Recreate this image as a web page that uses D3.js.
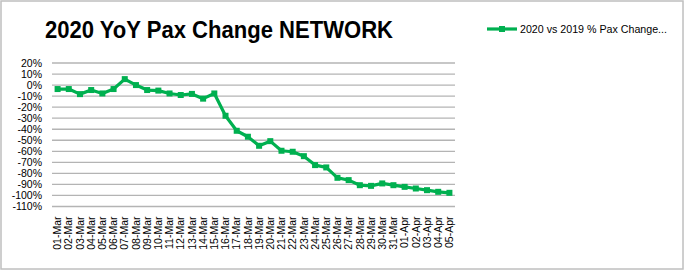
<!DOCTYPE html>
<html>
<head>
<meta charset="utf-8">
<script src="https://cdn.jsdelivr.net/npm/d3@7"></script>
<style>
  body { margin: 0; background: #fff; }
  svg { display: block; }
</style>
</head>
<body>
<script>
"use strict";
(function(){
    // dates on the x axis
    const days = ["01-Mar","02-Mar","03-Mar","04-Mar","05-Mar","06-Mar","07-Mar","08-Mar","09-Mar","10-Mar",
        "11-Mar","12-Mar","13-Mar","14-Mar","15-Mar","16-Mar","17-Mar","18-Mar","19-Mar","20-Mar",
        "21-Mar","22-Mar","23-Mar","24-Mar","25-Mar","26-Mar","27-Mar","28-Mar","29-Mar","30-Mar",
        "31-Mar","01-Apr","02-Apr","03-Apr","04-Apr","05-Apr"]
    // 2020 vs 2019 % pax change
    const paxChange = [-3.6, -3.6, -8.2, -4.5, -7.6, -3.6, 5.4, 0, -4.5, -5,
        -7.6, -9, -8, -12.3, -7.6, -27.8, -41.4, -46.8, -55, -50.8,
        -59.5, -60.4, -64.4, -72.5, -74.6, -84, -86.1, -90.7, -91.3, -89.1,
        -90.7, -92.2, -93.7, -95.2, -96.7, -97.6]
    const yTicks = [20, 10, 0, -10, -20, -30, -40, -50, -60, -70, -80, -90, -100, -110]
    const seriesName = "2020 vs 2019 % Pax Change..."
    const title = "2020 YoY Pax Change NETWORK"

    const measurements = {
        width: 686,
        height: 272,
        left: 52,
        right: 455,
        top: 63,
        bottom: 206.5
    }
    const green = "#00b050"

    const svgContainer = d3.select("body").append("svg")
        .attr("width", measurements.width)
        .attr("height", measurements.height)

    // chart frame
    svgContainer.append("rect")
        .attr("x", 1).attr("y", 1)
        .attr("width", 682).attr("height", 268)
        .attr("fill", "#fff")
        .attr("stroke", "#bfbfbf")
        .attr("stroke-width", 1.5)

    const scaleX = d3.scaleBand()
        .domain(days)
        .range([measurements.left, measurements.right])
    const scaleY = d3.scaleLinear()
        .domain([20, -110])
        .range([measurements.top, measurements.bottom])

    // gridlines
    svgContainer.append("g")
        .selectAll("line")
        .data(yTicks)
        .enter()
        .append("line")
            .attr("x1", measurements.left)
            .attr("x2", measurements.right)
            .attr("y1", d => scaleY(d))
            .attr("y2", d => scaleY(d))
            .attr("stroke", "#b4b4b4")
            .attr("stroke-width", 1.3)

    // y axis labels
    const yAxis = d3.axisLeft(scaleY)
        .tickValues(yTicks)
        .tickSize(0)
        .tickPadding(0)
        .tickFormat(d => d + "%")
    svgContainer.append("g")
        .attr("transform", "translate(42,0)")
        .call(yAxis)
        .call(g => g.select(".domain").remove())
        .selectAll("text")
            .attr("font-family", "Liberation Sans, Arial, sans-serif")
            .attr("font-size", "10.5px")
            .attr("fill", "#000")

    // x axis labels, rotated
    const xAxis = d3.axisBottom(scaleX)
        .tickSize(0)
        .tickPadding(0)
    svgContainer.append("g")
        .attr("transform", "translate(0," + measurements.bottom + ")")
        .call(xAxis)
        .call(g => g.select(".domain").remove())
        .selectAll("text")
            .attr("font-family", "Liberation Sans, Arial, sans-serif")
            .attr("font-size", "10.5px")
            .attr("fill", "#000")
            .attr("text-anchor", "end")
            .attr("dy", "0.35em")
            .attr("transform", "translate(0,10)rotate(-90)")
            .attr("x", 0).attr("y", 0)

    // line and markers
    const cx = (d, i) => scaleX(days[i]) + scaleX.bandwidth() / 2
    const line = d3.line()
        .x(cx)
        .y(d => scaleY(d))
    svgContainer.append("path")
        .datum(paxChange)
        .attr("d", line)
        .attr("fill", "none")
        .attr("stroke", green)
        .attr("stroke-width", 3.2)
        .attr("stroke-linejoin", "round")
    svgContainer.append("g")
        .selectAll("rect")
        .data(paxChange)
        .enter()
        .append("rect")
            .attr("x", (d, i) => cx(d, i) - 3)
            .attr("y", d => scaleY(d) - 3)
            .attr("width", 6)
            .attr("height", 6)
            .attr("fill", green)

    // title
    svgContainer.append("text")
        .attr("x", 45)
        .attr("y", 38)
        .attr("font-family", "Liberation Sans, Arial, sans-serif")
        .attr("font-weight", "bold")
        .attr("font-size", "23px")
        .attr("textLength", 348)
        .attr("lengthAdjust", "spacingAndGlyphs")
        .text(title)

    // legend
    const legend = svgContainer.append("g")
    legend.append("line")
        .attr("x1", 487).attr("x2", 517)
        .attr("y1", 29).attr("y2", 29)
        .attr("stroke", green)
        .attr("stroke-width", 3.2)
    legend.append("rect")
        .attr("x", 499).attr("y", 26)
        .attr("width", 6).attr("height", 6)
        .attr("fill", green)
    legend.append("text")
        .attr("x", 520)
        .attr("y", 33)
        .attr("font-family", "Liberation Sans, Arial, sans-serif")
        .attr("font-size", "10px")
        .attr("textLength", 147)
        .attr("lengthAdjust", "spacingAndGlyphs")
        .text(seriesName)
})()
</script>
</body>
</html>
